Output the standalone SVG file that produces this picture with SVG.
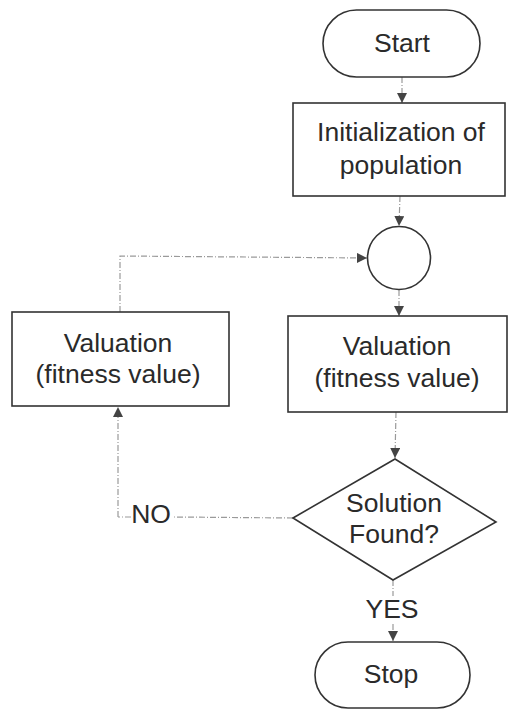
<svg xmlns="http://www.w3.org/2000/svg" width="513" height="709" viewBox="0 0 513 709">
  <style>
    .shape { fill: #fff; stroke: #333; stroke-width: 1.6; }
    .lbl { font-family: "Liberation Sans", Arial, sans-serif; font-size: 26.5px; fill: #2a2a2a; text-anchor: middle; }
    .conn { fill: none; stroke: #9a9a9a; stroke-width: 1.2; stroke-dasharray: 6 2 1 2; }
  </style>
  <defs>
    <marker id="arrow" viewBox="0 0 10 10" refX="10" refY="5" markerWidth="10" markerHeight="10" markerUnits="userSpaceOnUse" orient="auto">
      <path d="M0,0 L10,5 L0,10 Z" fill="#444"/>
    </marker>
  </defs>
  <rect width="513" height="709" fill="#fff"/>

  <g id="connectors">
    <line class="conn" x1="402" y1="77" x2="402" y2="103" marker-end="url(#arrow)"/>
    <line class="conn" x1="400" y1="196" x2="399" y2="226" marker-end="url(#arrow)"/>
    <line class="conn" x1="399" y1="290" x2="399" y2="316" marker-end="url(#arrow)"/>
    <line class="conn" x1="396" y1="412" x2="395" y2="458" marker-end="url(#arrow)"/>
    <!-- NO branch back to left box -->
    <line class="conn" x1="293" y1="518" x2="172" y2="517"/>
    <line class="conn" x1="131" y1="517" x2="118" y2="517"/>
    <line class="conn" x1="118" y1="517" x2="118" y2="407" marker-end="url(#arrow)"/>
    <!-- loop from left box back into junction -->
    <polyline class="conn" points="120,312 120,256 367,258" marker-end="url(#arrow)"/>
    <!-- YES branch -->
    <line class="conn" x1="393" y1="580" x2="393" y2="596"/>
    <line class="conn" x1="393" y1="624" x2="393" y2="641" marker-end="url(#arrow)"/>
    <line x1="473" y1="535" x2="479" y2="532" stroke="#777" stroke-width="1"/>
  </g>

  <g id="start">
    <rect class="shape" x="323" y="10" width="157" height="67" rx="33.5" ry="33.5"/>
    <text class="lbl" x="402" y="52">Start</text>
  </g>

  <g id="init">
    <rect class="shape" x="293" y="103" width="212" height="93"/>
    <text class="lbl" x="401" y="141">Initialization of</text>
    <text class="lbl" x="401" y="174">population</text>
  </g>

  <g id="junction">
    <circle class="shape" cx="399" cy="258" r="31.5"/>
  </g>

  <g id="valuation-main">
    <rect class="shape" x="288" y="316" width="219" height="96"/>
    <text class="lbl" x="397" y="355">Valuation</text>
    <text class="lbl" x="397" y="387">(fitness value)</text>
  </g>

  <g id="valuation-loop">
    <rect class="shape" x="12" y="312" width="217" height="94"/>
    <text class="lbl" x="118" y="352">Valuation</text>
    <text class="lbl" x="118" y="383">(fitness value)</text>
  </g>

  <g id="decision">
    <polygon class="shape" points="293,518 395,459 496,522 393,580"/>
    <text class="lbl" x="394" y="512">Solution</text>
    <text class="lbl" x="394" y="543">Found?</text>
  </g>

  <g id="labels">
    <text class="lbl" x="151" y="523">NO</text>
    <text class="lbl" x="392" y="618">YES</text>
  </g>

  <g id="stop">
    <rect class="shape" x="315" y="642" width="155" height="66" rx="33" ry="33"/>
    <text class="lbl" x="391" y="683">Stop</text>
  </g>
</svg>
